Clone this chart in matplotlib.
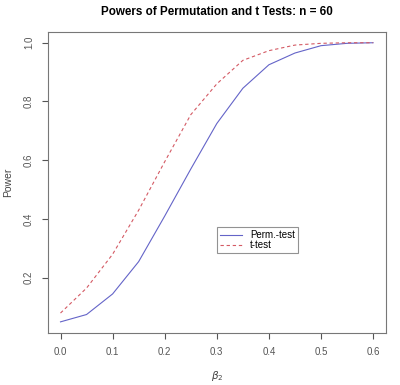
import matplotlib
matplotlib.use("Agg")
import matplotlib.pyplot as plt

beta2 = [0.0, 0.05, 0.1, 0.15, 0.2, 0.25, 0.3, 0.35, 0.4, 0.45, 0.5, 0.55, 0.6]
perm_power = [0.05, 0.075, 0.145, 0.255, 0.41, 0.57, 0.725, 0.845, 0.925, 0.965, 0.99, 0.998, 1.0]
t_power = [0.08, 0.165, 0.28, 0.43, 0.595, 0.755, 0.86, 0.94, 0.973, 0.992, 0.998, 1.0, 1.0]
xticks = [0.0, 0.1, 0.2, 0.3, 0.4, 0.5, 0.6]
yticks = [0.2, 0.4, 0.6, 0.8, 1.0]

plt.rcParams['font.family'] = ['Liberation Sans', 'DejaVu Sans']
fig = plt.figure(figsize=(4.0, 3.85), dpi=100)
ax = fig.add_axes([0.12, 0.135, 0.844, 0.783])

ax.plot(beta2, perm_power, color='#6464c8', lw=0.8, label='Perm.-test')
ax.plot(beta2, t_power, color='#d45a64', lw=0.8, ls=(0, (3, 2.5)), label='t-test')

ax.set_xlim(-0.024, 0.624)
ax.set_ylim(0.012, 1.038)
ax.set_xticks(xticks)
ax.set_xticklabels([f"{v:.1f}" for v in xticks])
ax.set_yticks(yticks)
ax.set_yticklabels([f"{v:.1f}" for v in yticks], rotation=90, va='center')
ax.tick_params(labelsize=7, colors='#555555', length=4, width=0.8, pad=6)
for s in ax.spines.values():
    s.set_color('#777777')
    s.set_linewidth(0.8)

ax.set_title('Powers of Permutation and t Tests: n = 60', fontsize=8.4, fontweight='bold', pad=12)
ax.set_xlabel(r'$\beta_2$', fontsize=7.5, color='#444444', labelpad=9)
ax.set_ylabel('Power', fontsize=7.5, color='#444444')
ax.yaxis.set_label_coords(-0.104, 0.5)

leg = ax.legend(loc='upper left', bbox_to_anchor=(0.5006, 0.3516), fontsize=7, frameon=True,
                fancybox=False, edgecolor='#777777', handlelength=2.3, borderpad=0.3,
                labelspacing=0.05, borderaxespad=0, handletextpad=0.8)
leg.get_frame().set_linewidth(0.8)

fig.savefig('out.png', dpi=100)
